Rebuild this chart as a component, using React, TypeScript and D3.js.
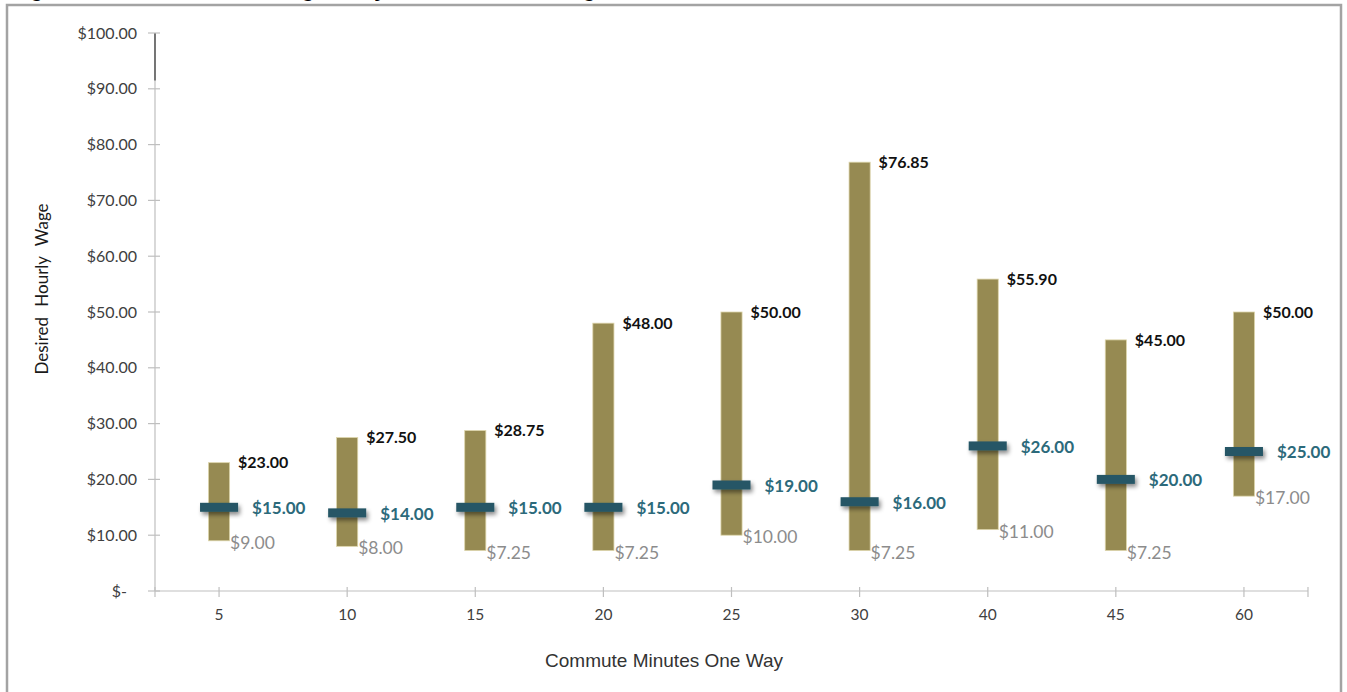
import React from "react";
import * as d3 from "d3";

// Commute length (minutes, one way) and desired hourly wage statistics
const commuteMinutes = ["5", "10", "15", "20", "25", "30", "40", "45", "60"];
const maxWage = [23.0, 27.5, 28.75, 48.0, 50.0, 76.85, 55.9, 45.0, 50.0];
const medianWage = [15.0, 14.0, 15.0, 15.0, 19.0, 16.0, 26.0, 20.0, 25.0];
const minWage = [9.0, 8.0, 7.25, 7.25, 10.0, 7.25, 11.0, 7.25, 17.0];
const yTicks = [0, 10, 20, 30, 40, 50, 60, 70, 80, 90, 100];

const W = 1347;
const H = 692;
const plot = { left: 155, right: 1308, top: 33, bottom: 591 };

const FONT = "Lato, 'Open Sans', sans-serif";
const BAR = "#968a52";
const MEDIAN = "#275766";
const MEDIAN_TEXT = "#2c6a7b";
const MIN_TEXT = "#8c8c8c";
const AXIS = "#bfbfbf";

const money = (v: number) => (v === 0 ? "$-" : `$${v.toFixed(2)}`);

export default function App() {
  const x = d3
    .scalePoint<string>()
    .domain(commuteMinutes)
    .range([plot.left, plot.right])
    .padding(0.5);
  const y = d3.scaleLinear().domain([0, 100]).range([plot.bottom, plot.top]);
  const step = x.step();
  const barW = step * 0.165;
  const markW = step * 0.297;
  const markH = 9;

  const rows = commuteMinutes.map((c, i) => ({
    c,
    cx: x(c) as number,
    max: maxWage[i],
    med: medianWage[i],
    min: minWage[i],
  }));

  return (
    <svg
      width={W}
      height={H}
      viewBox={`0 0 ${W} ${H}`}
      style={{ position: "absolute", left: 0, top: 0, background: "#fff" }}
    >
      <defs>
        <filter id="markShadow" x="-30%" y="-80%" width="160%" height="260%">
          <feDropShadow dx="2" dy="3" stdDeviation="2" floodColor="#000" floodOpacity="0.45" />
        </filter>
      </defs>

      {/* report heading running above the chart frame */}
      <text
        x={15}
        y={-2.6}
        fontFamily="'Liberation Sans', Arial, sans-serif"
        fontWeight="bold"
        fontSize={21}
        letterSpacing={-1.6}
        fill="#000"
      >
        Figure 9: Desired Minimum, Average Hourly Rate vs. Commute Length
      </text>

      {/* chart frame */}
      <rect x={7} y={5} width={1334} height={700} fill="none" stroke="#a3a3a3" strokeWidth={2.5} />

      {/* y axis */}
      <line x1={plot.left} x2={plot.left} y1={y(0)} y2={y(100)} stroke={AXIS} strokeWidth={1.2} />
      <line x1={plot.left} x2={plot.left} y1={y(100)} y2={y(91.5)} stroke="#333" strokeWidth={1.2} />
      {yTicks.map((t) => (
        <g key={`yt${t}`}>
          <line x1={plot.left - 7} x2={plot.left + 5} y1={y(t)} y2={y(t)} stroke={AXIS} strokeWidth={1.2} />
          <text
            x={t === 0 ? plot.left - 28 : plot.left - 18}
            y={y(t)}
            dy="0.35em"
            textAnchor="end"
            fontFamily={FONT}
            fontSize={16}
            fill="#404040"
          >
            {money(t)}
          </text>
        </g>
      ))}

      {/* x axis */}
      <line x1={plot.left} x2={plot.right} y1={y(0)} y2={y(0)} stroke={AXIS} strokeWidth={1.2} />
      {[plot.left, ...rows.map((r) => r.cx), plot.right].map((tx, i) => (
        <line key={`xt${i}`} x1={tx} x2={tx} y1={y(0) - 4} y2={y(0) + 6} stroke={AXIS} strokeWidth={1.2} />
      ))}
      {rows.map((r) => (
        <text
          key={`xl${r.c}`}
          x={r.cx}
          y={620}
          textAnchor="middle"
          fontFamily={FONT}
          fontSize={15.5}
          fill="#404040"
        >
          {r.c}
        </text>
      ))}

      {/* axis titles */}
      <text
        transform="translate(48, 289) rotate(-90)"
        textAnchor="middle"
        fontFamily={FONT}
        fontSize={17}
        wordSpacing={6}
        fill="#1a1a1a"
      >
        Desired Hourly Wage
      </text>
      <text
        x={664}
        y={667}
        textAnchor="middle"
        fontFamily="'Liberation Sans', Arial, sans-serif"
        fontSize={19}
        fill="#333"
      >
        Commute Minutes One Way
      </text>

      {/* min–max range bars */}
      {rows.map((r) => (
        <rect
          key={`bar${r.c}`}
          x={r.cx - barW / 2}
          y={y(r.max)}
          width={barW}
          height={y(r.min) - y(r.max)}
          fill={BAR}
          stroke="#ddd5ab"
          strokeWidth={0.8}
        />
      ))}

      {/* median markers */}
      {rows.map((r) => (
        <rect
          key={`med${r.c}`}
          x={r.cx - markW / 2}
          y={y(r.med) - markH / 2}
          width={markW}
          height={markH}
          fill={MEDIAN}
          filter="url(#markShadow)"
        />
      ))}

      {/* value labels */}
      {rows.map((r) => (
        <g key={`lab${r.c}`} fontFamily={FONT}>
          <text x={r.cx + 19} y={y(r.max)} dy="0.35em" fontSize={16} fontWeight="bold" fill="#111">
            {money(r.max)}
          </text>
          <text x={r.cx + 33} y={y(r.med) + 1} dy="0.35em" fontSize={17} fontWeight="bold" fill={MEDIAN_TEXT}>
            {money(r.med)}
          </text>
          <text x={r.cx + 11} y={y(r.min) + 2} dy="0.35em" fontSize={17.5} fill={MIN_TEXT}>
            {money(r.min)}
          </text>
        </g>
      ))}
    </svg>
  );
}
